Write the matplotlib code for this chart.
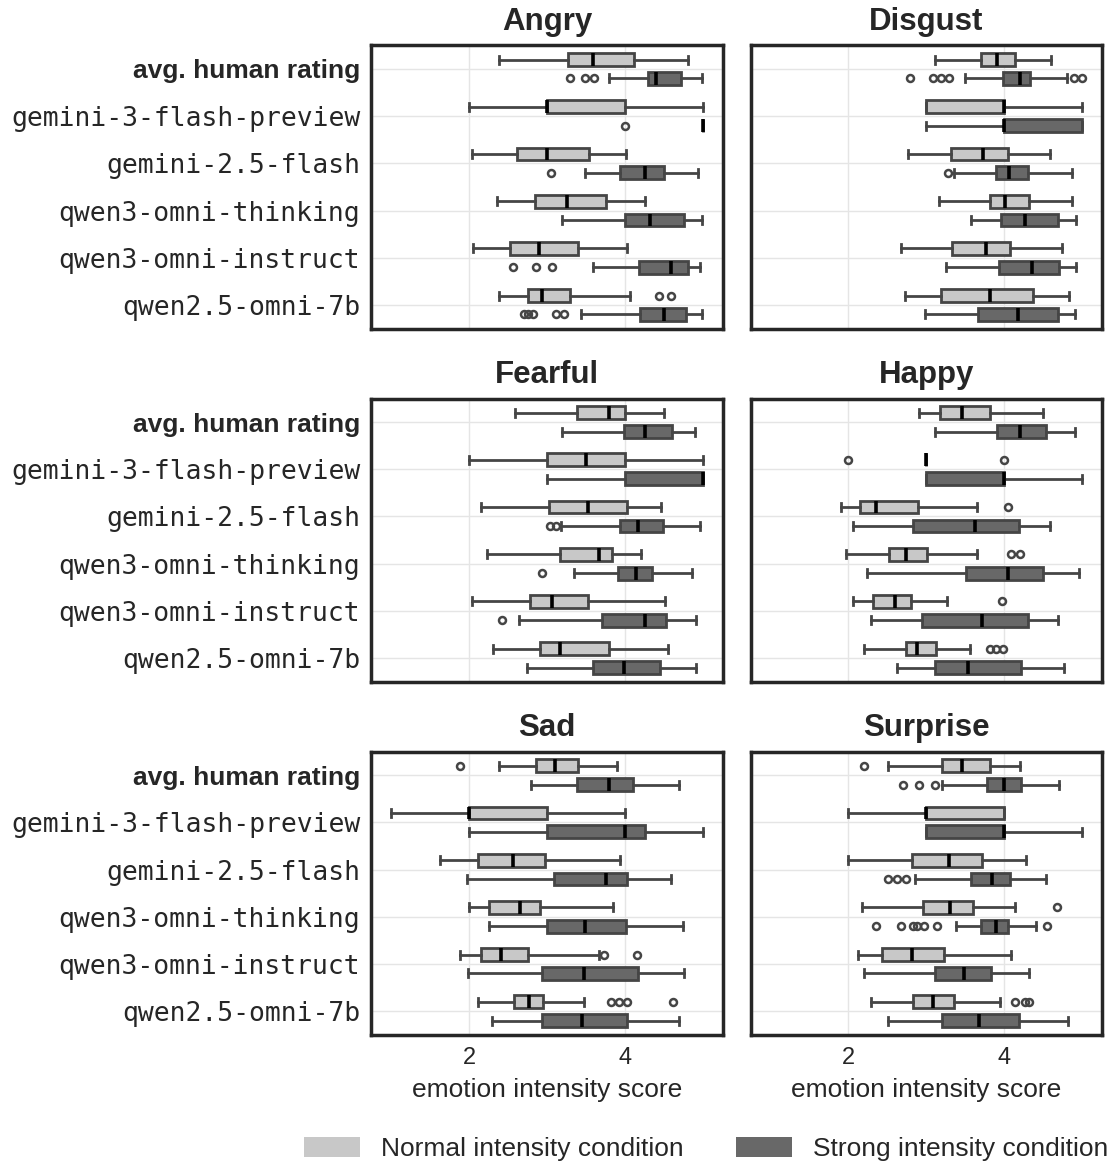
import matplotlib
matplotlib.use("Agg")
import matplotlib.pyplot as plt
from matplotlib.patches import Patch

# categories (top to bottom)
MODELS = [
    "avg. human rating",
    "gemini-3-flash-preview",
    "gemini-2.5-flash",
    "qwen3-omni-thinking",
    "qwen3-omni-instruct",
    "qwen2.5-omni-7b",
]
EMOTIONS = ["Angry", "Disgust", "Fearful", "Happy", "Sad", "Surprise"]

# box summaries per model: [whislo, q1, median, q3, whishi]
ANGRY_NORMAL = [[2.39, 3.27, 3.59, 4.12, 4.80], [2.0, 3.0, 3.0, 4.0, 5.0], [2.04, 2.61, 3.0, 3.54, 4.01],
                [2.36, 2.84, 3.26, 3.76, 4.25], [2.05, 2.53, 2.90, 3.40, 4.02], [2.38, 2.76, 2.93, 3.29, 4.06]]
ANGRY_STRONG = [[3.79, 4.29, 4.39, 4.71, 4.99], [5.0, 5.0, 5.0, 5.0, 5.0], [3.49, 3.93, 4.25, 4.50, 4.93],
                [3.19, 4.0, 4.32, 4.76, 4.98], [3.59, 4.18, 4.59, 4.80, 4.96], [3.44, 4.19, 4.50, 4.78, 4.98]]
ANGRY_NORMAL_FLIERS = [[], [], [], [], [], [4.44, 4.59]]
ANGRY_STRONG_FLIERS = [[3.29, 3.49, 3.60], [4.0], [3.05], [], [2.57, 2.86, 3.07], [2.71, 2.76, 2.82, 3.12, 3.22]]

DISGUST_NORMAL = [[3.11, 3.70, 3.90, 4.14, 4.60], [3.0, 3.0, 4.0, 4.0, 5.0], [2.77, 3.32, 3.72, 4.05, 4.59],
                  [3.16, 3.82, 4.01, 4.32, 4.86], [2.67, 3.33, 3.76, 4.07, 4.74], [2.73, 3.19, 3.82, 4.37, 4.83]]
DISGUST_STRONG = [[3.50, 3.98, 4.20, 4.33, 4.80], [3.0, 4.0, 4.0, 5.0, 5.0], [3.35, 3.89, 4.06, 4.30, 4.86],
                  [3.57, 3.96, 4.27, 4.69, 4.92], [3.25, 3.93, 4.35, 4.70, 4.92], [2.98, 3.66, 4.17, 4.69, 4.90]]
DISGUST_NORMAL_FLIERS = [[], [], [], [], [], []]
DISGUST_STRONG_FLIERS = [[2.79, 3.09, 3.19, 3.29, 4.89, 5.0], [], [3.28], [], [], []]

FEARFUL_NORMAL = [[2.59, 3.39, 3.79, 4.0, 4.50], [2.0, 3.0, 3.50, 4.0, 5.0], [2.15, 3.03, 3.53, 4.02, 4.46],
                  [2.23, 3.17, 3.66, 3.83, 4.20], [2.04, 2.78, 3.07, 3.53, 4.51], [2.31, 2.91, 3.16, 3.79, 4.55]]
FEARFUL_STRONG = [[3.19, 3.99, 4.25, 4.60, 4.90], [3.0, 4.0, 5.0, 5.0, 5.0], [3.18, 3.93, 4.16, 4.48, 4.96],
                  [3.35, 3.91, 4.14, 4.34, 4.86], [2.64, 3.70, 4.25, 4.53, 4.91], [2.74, 3.59, 3.98, 4.45, 4.91]]
FEARFUL_NORMAL_FLIERS = [[], [], [], [], [], []]
FEARFUL_STRONG_FLIERS = [[], [], [3.04, 3.11], [2.94], [2.42], []]

HAPPY_NORMAL = [[2.90, 3.18, 3.46, 3.81, 4.50], [3.0, 3.0, 3.0, 3.0, 3.0], [1.91, 2.15, 2.35, 2.89, 3.65],
                [1.97, 2.52, 2.74, 3.01, 3.65], [2.06, 2.31, 2.60, 2.80, 3.26], [2.20, 2.74, 2.88, 3.12, 3.56]]
HAPPY_STRONG = [[3.11, 3.90, 4.20, 4.53, 4.90], [3.0, 3.0, 4.0, 4.0, 5.0], [2.06, 2.83, 3.62, 4.19, 4.59],
                [2.24, 3.51, 4.05, 4.49, 4.95], [2.29, 2.95, 3.71, 4.30, 4.68], [2.62, 3.11, 3.53, 4.21, 4.76]]
HAPPY_NORMAL_FLIERS = [[], [2.0, 4.0], [4.04], [4.08, 4.20], [3.97], [3.82, 3.89, 3.98]]
HAPPY_STRONG_FLIERS = [[], [], [], [], [], []]

SAD_NORMAL = [[2.38, 2.86, 3.10, 3.40, 3.90], [1.0, 2.0, 2.0, 3.0, 4.0], [1.63, 2.12, 2.56, 2.97, 3.93],
              [2.0, 2.26, 2.66, 2.91, 3.84], [1.88, 2.15, 2.41, 2.76, 3.67], [2.12, 2.58, 2.77, 2.95, 3.47]]
SAD_STRONG = [[2.80, 3.39, 3.79, 4.10, 4.69], [2.0, 3.0, 4.0, 4.25, 5.0], [1.97, 3.09, 3.76, 4.02, 4.59],
              [2.26, 3.0, 3.49, 4.01, 4.74], [1.99, 2.93, 3.47, 4.17, 4.76], [2.30, 2.94, 3.45, 4.02, 4.69]]
SAD_NORMAL_FLIERS = [[1.88], [], [], [], [3.73, 4.15], [3.82, 3.92, 4.02, 4.61]]
SAD_STRONG_FLIERS = [[], [], [], [], [], []]

SURPRISE_NORMAL = [[2.51, 3.20, 3.46, 3.81, 4.20], [2.0, 3.0, 3.0, 4.0, 4.0], [1.99, 2.81, 3.29, 3.71, 4.28],
                   [2.17, 2.96, 3.30, 3.60, 4.14], [2.13, 2.43, 2.82, 3.23, 4.08], [2.29, 2.83, 3.08, 3.36, 3.94]]
SURPRISE_STRONG = [[3.20, 3.78, 4.0, 4.21, 4.70], [3.0, 3.0, 4.0, 4.0, 5.0], [2.85, 3.57, 3.84, 4.07, 4.53],
                   [3.38, 3.70, 3.89, 4.04, 4.40], [2.20, 3.11, 3.48, 3.83, 4.31], [2.51, 3.20, 3.67, 4.19, 4.82]]
SURPRISE_NORMAL_FLIERS = [[2.20], [], [], [4.67], [], [4.14, 4.27, 4.31]]
SURPRISE_STRONG_FLIERS = [[2.70, 2.90, 3.11], [], [2.51, 2.63, 2.74], [2.36, 2.67, 2.83, 2.88, 2.97, 3.13, 4.54], [], []]

PANELS = [
    (ANGRY_NORMAL, ANGRY_NORMAL_FLIERS, ANGRY_STRONG, ANGRY_STRONG_FLIERS),
    (DISGUST_NORMAL, DISGUST_NORMAL_FLIERS, DISGUST_STRONG, DISGUST_STRONG_FLIERS),
    (FEARFUL_NORMAL, FEARFUL_NORMAL_FLIERS, FEARFUL_STRONG, FEARFUL_STRONG_FLIERS),
    (HAPPY_NORMAL, HAPPY_NORMAL_FLIERS, HAPPY_STRONG, HAPPY_STRONG_FLIERS),
    (SAD_NORMAL, SAD_NORMAL_FLIERS, SAD_STRONG, SAD_STRONG_FLIERS),
    (SURPRISE_NORMAL, SURPRISE_NORMAL_FLIERS, SURPRISE_STRONG, SURPRISE_STRONG_FLIERS),
]

NORMAL_COLOR = "#c8c8c8"
STRONG_COLOR = "#686868"
EDGE = "#454545"
TEXT = "#262626"
SANS = ["Liberation Sans", "DejaVu Sans"]
MONO = ["DejaVu Sans Mono"]


def to_stats(rows, fliers):
    out = []
    for (lo, q1, med, q3, hi), fl in zip(rows, fliers):
        out.append({"whislo": lo, "q1": q1, "med": med, "q3": q3, "whishi": hi, "fliers": fl})
    return out


def draw_boxes(ax, rows, fliers, offset, color):
    positions = [i + offset for i in range(len(rows))]
    ax.bxp(
        to_stats(rows, fliers),
        positions=positions,
        widths=0.27,
        orientation="horizontal",
        patch_artist=True,
        capwidths=0.17,
        boxprops=dict(facecolor=color, edgecolor=EDGE, linewidth=2.0),
        whiskerprops=dict(color=EDGE, linewidth=2.0),
        capprops=dict(color=EDGE, linewidth=2.0),
        medianprops=dict(color="black", linewidth=2.6, solid_capstyle="butt"),
        flierprops=dict(marker="o", markersize=5, markerfacecolor="none",
                        markeredgecolor=EDGE, markeredgewidth=1.8),
        manage_ticks=False,
    )


fig, axes = plt.subplots(3, 2, figsize=(11.12, 11.64), dpi=100)
fig.subplots_adjust(left=0.334, right=0.991, bottom=0.111, top=0.961, wspace=0.08, hspace=0.247)

for k, ax in enumerate(axes.ravel()):
    normal, normal_fl, strong, strong_fl = PANELS[k]
    ax.set_axisbelow(True)
    ax.grid(True, color="#e5e5e5", linewidth=1.0)
    draw_boxes(ax, normal, normal_fl, -0.2, NORMAL_COLOR)
    draw_boxes(ax, strong, strong_fl, 0.2, STRONG_COLOR)
    ax.set_xlim(0.75, 5.25)
    ax.set_ylim(5.5, -0.5)
    ax.set_xticks([2, 4])
    ax.set_yticks(range(len(MODELS)))
    ax.tick_params(length=0)
    for sp in ax.spines.values():
        sp.set_linewidth(2.5)
        sp.set_color(TEXT)
    ax.set_title(EMOTIONS[k], fontsize=22.5, fontweight="bold", family=SANS, color=TEXT, pad=11)

    if k % 2 == 0:
        ax.set_yticklabels(MODELS)
        ax.tick_params(axis="y", pad=8)
        for i, lab in enumerate(ax.get_yticklabels()):
            if i == 0:
                lab.set_fontfamily(SANS)
                lab.set_fontweight("bold")
            else:
                lab.set_fontfamily(MONO)
            lab.set_fontsize(19)
            lab.set_color(TEXT)
    else:
        ax.set_yticklabels([])

    if k >= 4:
        ax.set_xticklabels(["2", "4"], fontsize=17, family=SANS, color=TEXT)
        ax.tick_params(axis="x", pad=9)
        ax.set_xlabel("emotion intensity score", fontsize=19, family=SANS, color=TEXT, labelpad=6)
    else:
        ax.set_xticklabels([])

handles = [Patch(facecolor=NORMAL_COLOR, edgecolor="none", label="Normal intensity condition"),
           Patch(facecolor=STRONG_COLOR, edgecolor="none", label="Strong intensity condition")]
fig.legend(handles=handles, loc="center right", bbox_to_anchor=(0.997, 0.0129), ncol=2, frameon=False,
           prop={"family": SANS, "size": 19}, handlelength=2.1, handleheight=0.83,
           columnspacing=1.97, handletextpad=0.83, borderpad=0, borderaxespad=0, labelcolor=TEXT)

fig.savefig("out.png", dpi=100)
